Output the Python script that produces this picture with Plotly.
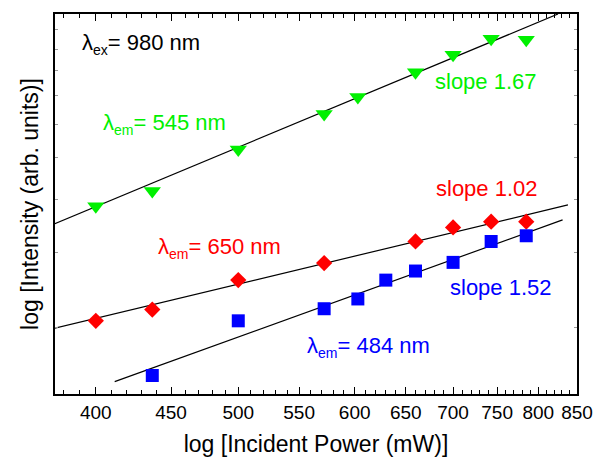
import plotly.graph_objects as go

# ---- data ----
green_x = [400, 437, 500, 572, 603, 660, 700, 743, 785]
green_y = [3.85, 4.18, 5.23, 6.34, 6.95, 7.94, 8.74, 9.53, 9.47]

red_x = [400, 437, 500, 572, 660, 700, 743, 785]
red_y = [2.07, 2.20, 2.58, 2.83, 3.18, 3.43, 3.54, 3.54]

blue_x = [437, 500, 572, 603, 630, 660, 700, 743, 785]
blue_y = [1.54, 2.07, 2.21, 2.33, 2.58, 2.71, 2.84, 3.18, 3.28]

# fitted lines (end points)
green_fit_x = [375, 825]
green_fit_y = [3.50, 10.89]
red_fit_x = [375, 838]
red_fit_y = [1.99, 3.875]
blue_fit_x = [412, 831]
blue_fit_y = [1.49, 3.575]

x_ticks = [400, 450, 500, 550, 600, 650, 700, 750, 800, 850]
x_minor = [v for v in range(380, 851, 10) if v % 50 != 0]
y_ticks = [2, 3, 4, 5, 6, 7, 8, 9, 10]

GREEN = "#00f000"
RED = "#ff0000"
BLUE = "#0000ff"
FONT = "Arial, Liberation Sans, sans-serif"

fig = go.Figure()
for fx, fy in [(green_fit_x, green_fit_y), (red_fit_x, red_fit_y), (blue_fit_x, blue_fit_y)]:
    fig.add_trace(go.Scatter(x=fx, y=fy, mode="lines",
                             line=dict(color="black", width=1.2), showlegend=False))

fig.add_trace(go.Scatter(x=green_x, y=green_y, mode="markers",
                         marker=dict(symbol="triangle-down", size=15, color=GREEN), showlegend=False))
fig.add_trace(go.Scatter(x=red_x, y=red_y, mode="markers",
                         marker=dict(symbol="diamond", size=12.5, color=RED), showlegend=False))
fig.add_trace(go.Scatter(x=blue_x, y=blue_y, mode="markers",
                         marker=dict(symbol="square", size=13, color=BLUE), showlegend=False))

def ann(x, y, text, color):
    fig.add_annotation(x=x, y=y, xref="paper", yref="paper", text=text, showarrow=False,
                       xanchor="left", yanchor="middle",
                       font=dict(family=FONT, size=22, color=color))

W, H = 605, 465
L, R, T, B = 55, 28, 12, 69
pw, ph = W - L - R, H - T - B
def px(xp):
    return (xp - L) / pw
def py(yp):
    return 1 - (yp - T) / ph

SUB = "<sub><span style='font-size:14px'>{}</span></sub>"
ann(px(80), py(42), "λ" + SUB.format("ex") + "= 980 nm", "black")
ann(px(101), py(123), "λ" + SUB.format("em") + "= 545 nm", GREEN)
ann(px(433), py(80), "slope 1.67", GREEN)
ann(px(434), py(188), "slope 1.02", RED)
ann(px(156), py(248), "λ" + SUB.format("em") + "= 650 nm", RED)
ann(px(448), py(288), "slope 1.52", BLUE)
ann(px(305), py(348), "λ" + SUB.format("em") + "= 484 nm", BLUE)

fig.update_xaxes(type="log", range=[2.5743, 2.9294],
                 tickvals=x_ticks, ticktext=[str(v) for v in x_ticks],
                 ticks="inside", ticklen=7, tickwidth=1.2, tickcolor="black",
                 minor=dict(tickvals=x_minor, ticks="inside", ticklen=4, tickwidth=1, tickcolor="black"),
                 showline=True, linewidth=2, linecolor="black", mirror="allticks",
                 showgrid=False, zeroline=False,
                 tickfont=dict(family=FONT, size=19, color="black"),
                 title=dict(text="log [Incident Power (mW)]", standoff=14,
                            font=dict(family=FONT, size=23, color="black")))
fig.update_yaxes(type="log", range=[0.144, 1.037],
                 tickvals=y_ticks, showticklabels=False,
                 ticks="inside", ticklen=3, tickwidth=1, tickcolor="#999999",
                 showline=True, linewidth=2, linecolor="black", mirror="allticks",
                 showgrid=False, zeroline=False,
                 title=dict(text="log [Intensity (arb. units)]", standoff=8,
                            font=dict(family=FONT, size=23, color="black")))

fig.update_layout(width=W, height=H, margin=dict(l=L, r=R, t=T, b=B),
                  plot_bgcolor="white", paper_bgcolor="white")

fig.write_html("out.html")
